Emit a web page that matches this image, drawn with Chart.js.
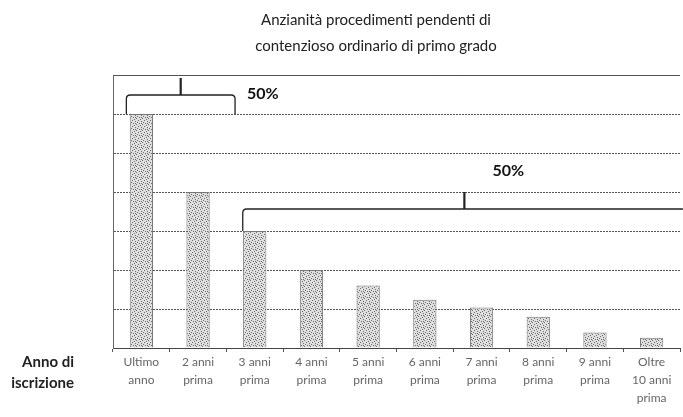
<!DOCTYPE html>
<html>
<head>
<meta charset="utf-8">
<script src="https://cdn.jsdelivr.net/npm/chart.js@4/dist/chart.umd.min.js"></script>
<style>
    body { margin: 0; background: #fff; }
    #wrap { width: 683px; height: 417px; position: relative; }
</style>
</head>
<body>
<div id="wrap"><canvas id="myBarChart"></canvas></div>
<script>
const categories = [
    ['Ultimo', 'anno'], ['2 anni', 'prima'], ['3 anni', 'prima'], ['4 anni', 'prima'],
    ['5 anni', 'prima'], ['6 anni', 'prima'], ['7 anni', 'prima'], ['8 anni', 'prima'],
    ['9 anni', 'prima'], ['Oltre', '10 anni', 'prima']
];
const shares = [30, 20, 15, 10, 8, 6.2, 5.2, 4, 2, 1.3];
const yTicks = [0, 5, 10, 15, 20, 25, 30, 35];
const titleLines = ['Anzianità procedimenti pendenti di', 'contenzioso ordinario di primo grado'];
const axisNote = ['Anno di', 'iscrizione'];
const bracketLabels = ['50%', '50%'];

// stippled fill like the scanned original
function makeStipple() {
    const c = document.createElement('canvas');
    c.width = 6; c.height = 6;
    const g = c.getContext('2d');
    g.fillStyle = '#dedede';
    g.fillRect(0, 0, 6, 6);
    g.fillStyle = '#707070';
    [[0,0],[3,1],[1,3],[4,4],[5,2],[2,5],[3,3]].forEach(p => g.fillRect(p[0], p[1], 1, 1));
    return g.createPattern(c, 'repeat');
}

const extras = {
    id: 'extras',
    afterDraw(chart) {
        const ctx = chart.ctx;
        const x = chart.scales.x, y = chart.scales.y;
        const area = chart.chartArea;
        ctx.save();

        // top grid line (max value)
        ctx.strokeStyle = '#555';
        ctx.lineWidth = 1;
        ctx.setLineDash([2, 1]);
        const yTop = Math.round(y.getPixelForValue(yTicks[yTicks.length - 1])) + 0.5;
        ctx.beginPath();
        ctx.moveTo(area.left, yTop);
        ctx.lineTo(area.right, yTop);
        ctx.stroke();
        ctx.setLineDash([]);

        // title
        ctx.fillStyle = '#222';
        ctx.font = '15px Lato';
        ctx.textAlign = 'center';
        ctx.textBaseline = 'middle';
        titleLines.forEach((t, i) => ctx.fillText(t, 376, 20 + i * 26));

        // axis note
        ctx.font = 'bold 15px Lato';
        ctx.textAlign = 'right';
        axisNote.forEach((t, i) => ctx.fillText(t, 74, 362 + i * 21));

        function bracket(left, right, base, top) {
            const mid = (left + right) / 2;
            ctx.strokeStyle = '#222';
            ctx.lineWidth = 1.3;
            ctx.beginPath();
            ctx.moveTo(left, base);
            ctx.lineTo(left, top + 4);
            ctx.quadraticCurveTo(left, top, left + 4, top);
            ctx.lineTo(right - 4, top);
            ctx.quadraticCurveTo(right, top, right, top + 4);
            ctx.lineTo(right, base);
            ctx.stroke();
            ctx.lineWidth = 2.2;
            ctx.beginPath();
            ctx.moveTo(mid, top);
            ctx.lineTo(mid, top - 17);
            ctx.stroke();
            return mid;
        }

        ctx.font = 'bold 16px Lato';
        ctx.fillStyle = '#111';
        ctx.textBaseline = 'middle';

        // first half: first two categories
        const l1 = x.getPixelForValue(0) - 15;
        const r1 = x.getPixelForValue(1) + 37;
        const b1 = y.getPixelForValue(shares[0]);
        bracket(l1, r1, b1, b1 - 19);
        ctx.textAlign = 'left';
        ctx.fillText(bracketLabels[0], r1 + 12, b1 - 20);

        // second half: the remaining categories
        const l2 = x.getPixelForValue(2) - 12;
        const r2 = area.right + 6;
        const b2 = y.getPixelForValue(shares[2]);
        const m2 = bracket(l2, r2, b2, b2 - 22);
        ctx.textAlign = 'center';
        ctx.fillText(bracketLabels[1], m2 + 44, b2 - 60);

        ctx.restore();
    }
};

const config = {
    type: 'bar',
    data: {
        labels: categories,
        datasets: [{
            data: shares,
            backgroundColor: makeStipple(),
            borderColor: '#777',
            borderWidth: 1,
            barPercentage: 0.41,
            categoryPercentage: 1
        }]
    },
    options: {
        responsive: true,
        maintainAspectRatio: false,
        animation: false,
        layout: { padding: { top: 75, right: 3, left: 0, bottom: 0 } },
        plugins: { legend: { display: false }, tooltip: { enabled: false } },
        scales: {
            x: {
                afterFit(scale) { scale.height = 69; },
                grid: {
                    offset: true,
                    drawOnChartArea: false,
                    tickLength: 4,
                    color: '#555'
                },
                border: { color: '#444', dash: [2, 1], width: 1 },
                ticks: {
                    color: '#666',
                    font: { family: 'Lato', size: 12, lineHeight: '18px' },
                    padding: 1,
                    maxRotation: 0,
                    autoSkip: false
                }
            },
            y: {
                min: 0,
                max: 35,
                afterFit(scale) { scale.width = 113; },
                afterBuildTicks(scale) { scale.ticks = yTicks.map(v => ({ value: v })); },
                grid: { color: '#555', drawTicks: false, lineWidth: 1 },
                border: { color: '#666', dash: [2, 1], width: 1 },
                ticks: { display: false }
            }
        }
    },
    plugins: [extras]
};

new Chart(document.getElementById('myBarChart'), config);
</script>
</body>
</html>
